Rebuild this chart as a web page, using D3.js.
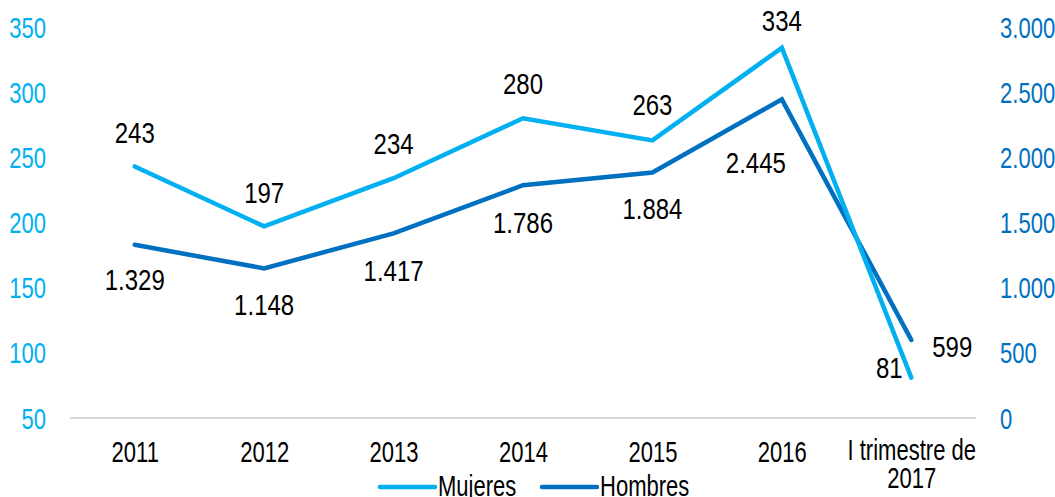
<!DOCTYPE html>
<html><head><meta charset="utf-8">
<script src="https://cdn.jsdelivr.net/npm/d3@7"></script>
<style>body{margin:0;background:#fff;} svg{display:block;} text{font-family:"Liberation Sans",Arial,sans-serif;}</style>
</head><body>
<svg id="c" width="1055" height="497"></svg>
<script>
const categories = ["2011","2012","2013","2014","2015","2016","I trimestre de 2017"];
const mujeres = [243,197,234,280,263,334,81];
const hombres = [1329,1148,1417,1786,1884,2445,599];
const leftTicks = [50,100,150,200,250,300,350];
const rightTicks = [0,500,1000,1500,2000,2500,3000];
const mujeresLabels = ["243","197","234","280","263","334","81"];
const hombresLabels = ["1.329","1.148","1.417","1.786","1.884","2.445","599"];
// label offsets (dx, dy) relative to each point
const mujeresOffsets = [[0,-34],[0,-34],[0,-35],[0,-35],[0,-36],[0,-27],[-22,-10]];
const hombresOffsets = [[0,35],[0,36],[0,37],[0,37],[0,36],[-26,63],[41,7]];

const LIGHT = "#00B0F0", DARK = "#0070C0";
const FS = 29, SX = 0.76;
const LFS = 30, LSX = 0.8;
const svg = d3.select("#c");
const x = d3.scalePoint().domain(categories).range([70,976]).padding(0.5);
const yL = d3.scaleLinear().domain([50,350]).range([418,27]);
const yR = d3.scaleLinear().domain([0,3000]).range([418,27]);
const fmt = d => d3.format(",")(d).replace(/,/g,".");

// baseline axis line
svg.append("line").attr("x1",70).attr("x2",976).attr("y1",yL(50)).attr("y2",yL(50))
  .attr("stroke","#D9D9D9").attr("stroke-width",2);

// left axis
const gl = svg.append("g").attr("transform","translate(46,0)")
  .call(d3.axisLeft(yL).tickValues(leftTicks).tickSize(0).tickPadding(0));
gl.select(".domain").remove();
gl.selectAll("text").attr("fill",LIGHT).attr("font-size",FS).attr("x",0)
  .attr("transform",`scale(${SX},1)`).attr("text-anchor","end").attr("dy","0.35em")
  .style("font-family","'Liberation Sans',Arial,sans-serif");

// right axis
const gr = svg.append("g").attr("transform","translate(1000,0)")
  .call(d3.axisRight(yR).tickValues(rightTicks).tickSize(0).tickPadding(0).tickFormat(fmt));
gr.select(".domain").remove();
gr.selectAll("text").attr("fill",DARK).attr("font-size",FS).attr("x",0)
  .attr("transform",`scale(${SX},1)`).attr("text-anchor","start").attr("dy","0.35em")
  .style("font-family","'Liberation Sans',Arial,sans-serif");

// x axis
const gx = svg.append("g").attr("transform","translate(0,418)")
  .call(d3.axisBottom(x).tickSize(0).tickPadding(0));
gx.select(".domain").remove();
gx.selectAll("text").each(function(d){
  const t = d3.select(this);
  t.text(null).attr("fill","#000").attr("font-size",FS).attr("y",0).attr("dy",null)
   .attr("transform",`scale(${SX},1)`).style("font-family","'Liberation Sans',Arial,sans-serif");
  if (d.startsWith("I trimestre")) {
    t.append("tspan").attr("x",0).attr("y",42).text("I trimestre de");
    t.append("tspan").attr("x",0).attr("y",70).text("2017");
  } else {
    t.append("tspan").attr("x",0).attr("y",44).text(d);
  }
});

// lines
const lineM = d3.line().x((d,i)=>x(categories[i])).y(d=>yL(d));
const lineH = d3.line().x((d,i)=>x(categories[i])).y(d=>yR(d));
svg.append("path").datum(hombres).attr("d",lineH).attr("fill","none").attr("stroke",DARK)
  .attr("stroke-width",4.5).attr("stroke-linecap","round").attr("stroke-linejoin","miter");
svg.append("path").datum(mujeres).attr("d",lineM).attr("fill","none").attr("stroke",LIGHT)
  .attr("stroke-width",4.5).attr("stroke-linecap","round").attr("stroke-linejoin","miter");

function label(cx, cy, txt){
  svg.append("text").attr("transform",`translate(${cx},${cy}) scale(${LSX},1)`)
    .attr("text-anchor","middle").attr("dy","0.35em").attr("font-size",LFS).attr("fill","#000").text(txt);
}
mujeres.forEach((v,i)=>label(x(categories[i])+mujeresOffsets[i][0], yL(v)+mujeresOffsets[i][1], mujeresLabels[i]));
hombres.forEach((v,i)=>label(x(categories[i])+hombresOffsets[i][0], yR(v)+hombresOffsets[i][1], hombresLabels[i]));

// legend
const legend = [{name:"Mujeres",color:LIGHT,x:380},{name:"Hombres",color:DARK,x:542}];
legend.forEach(l=>{
  svg.append("line").attr("x1",l.x).attr("x2",l.x+55).attr("y1",487).attr("y2",487)
    .attr("stroke",l.color).attr("stroke-width",4.5).attr("stroke-linecap","round");
  svg.append("text").attr("transform",`translate(${l.x+58},496) scale(${SX},1)`)
    .attr("font-size",FS).attr("fill","#000").text(l.name);
});
</script>
</body></html>
